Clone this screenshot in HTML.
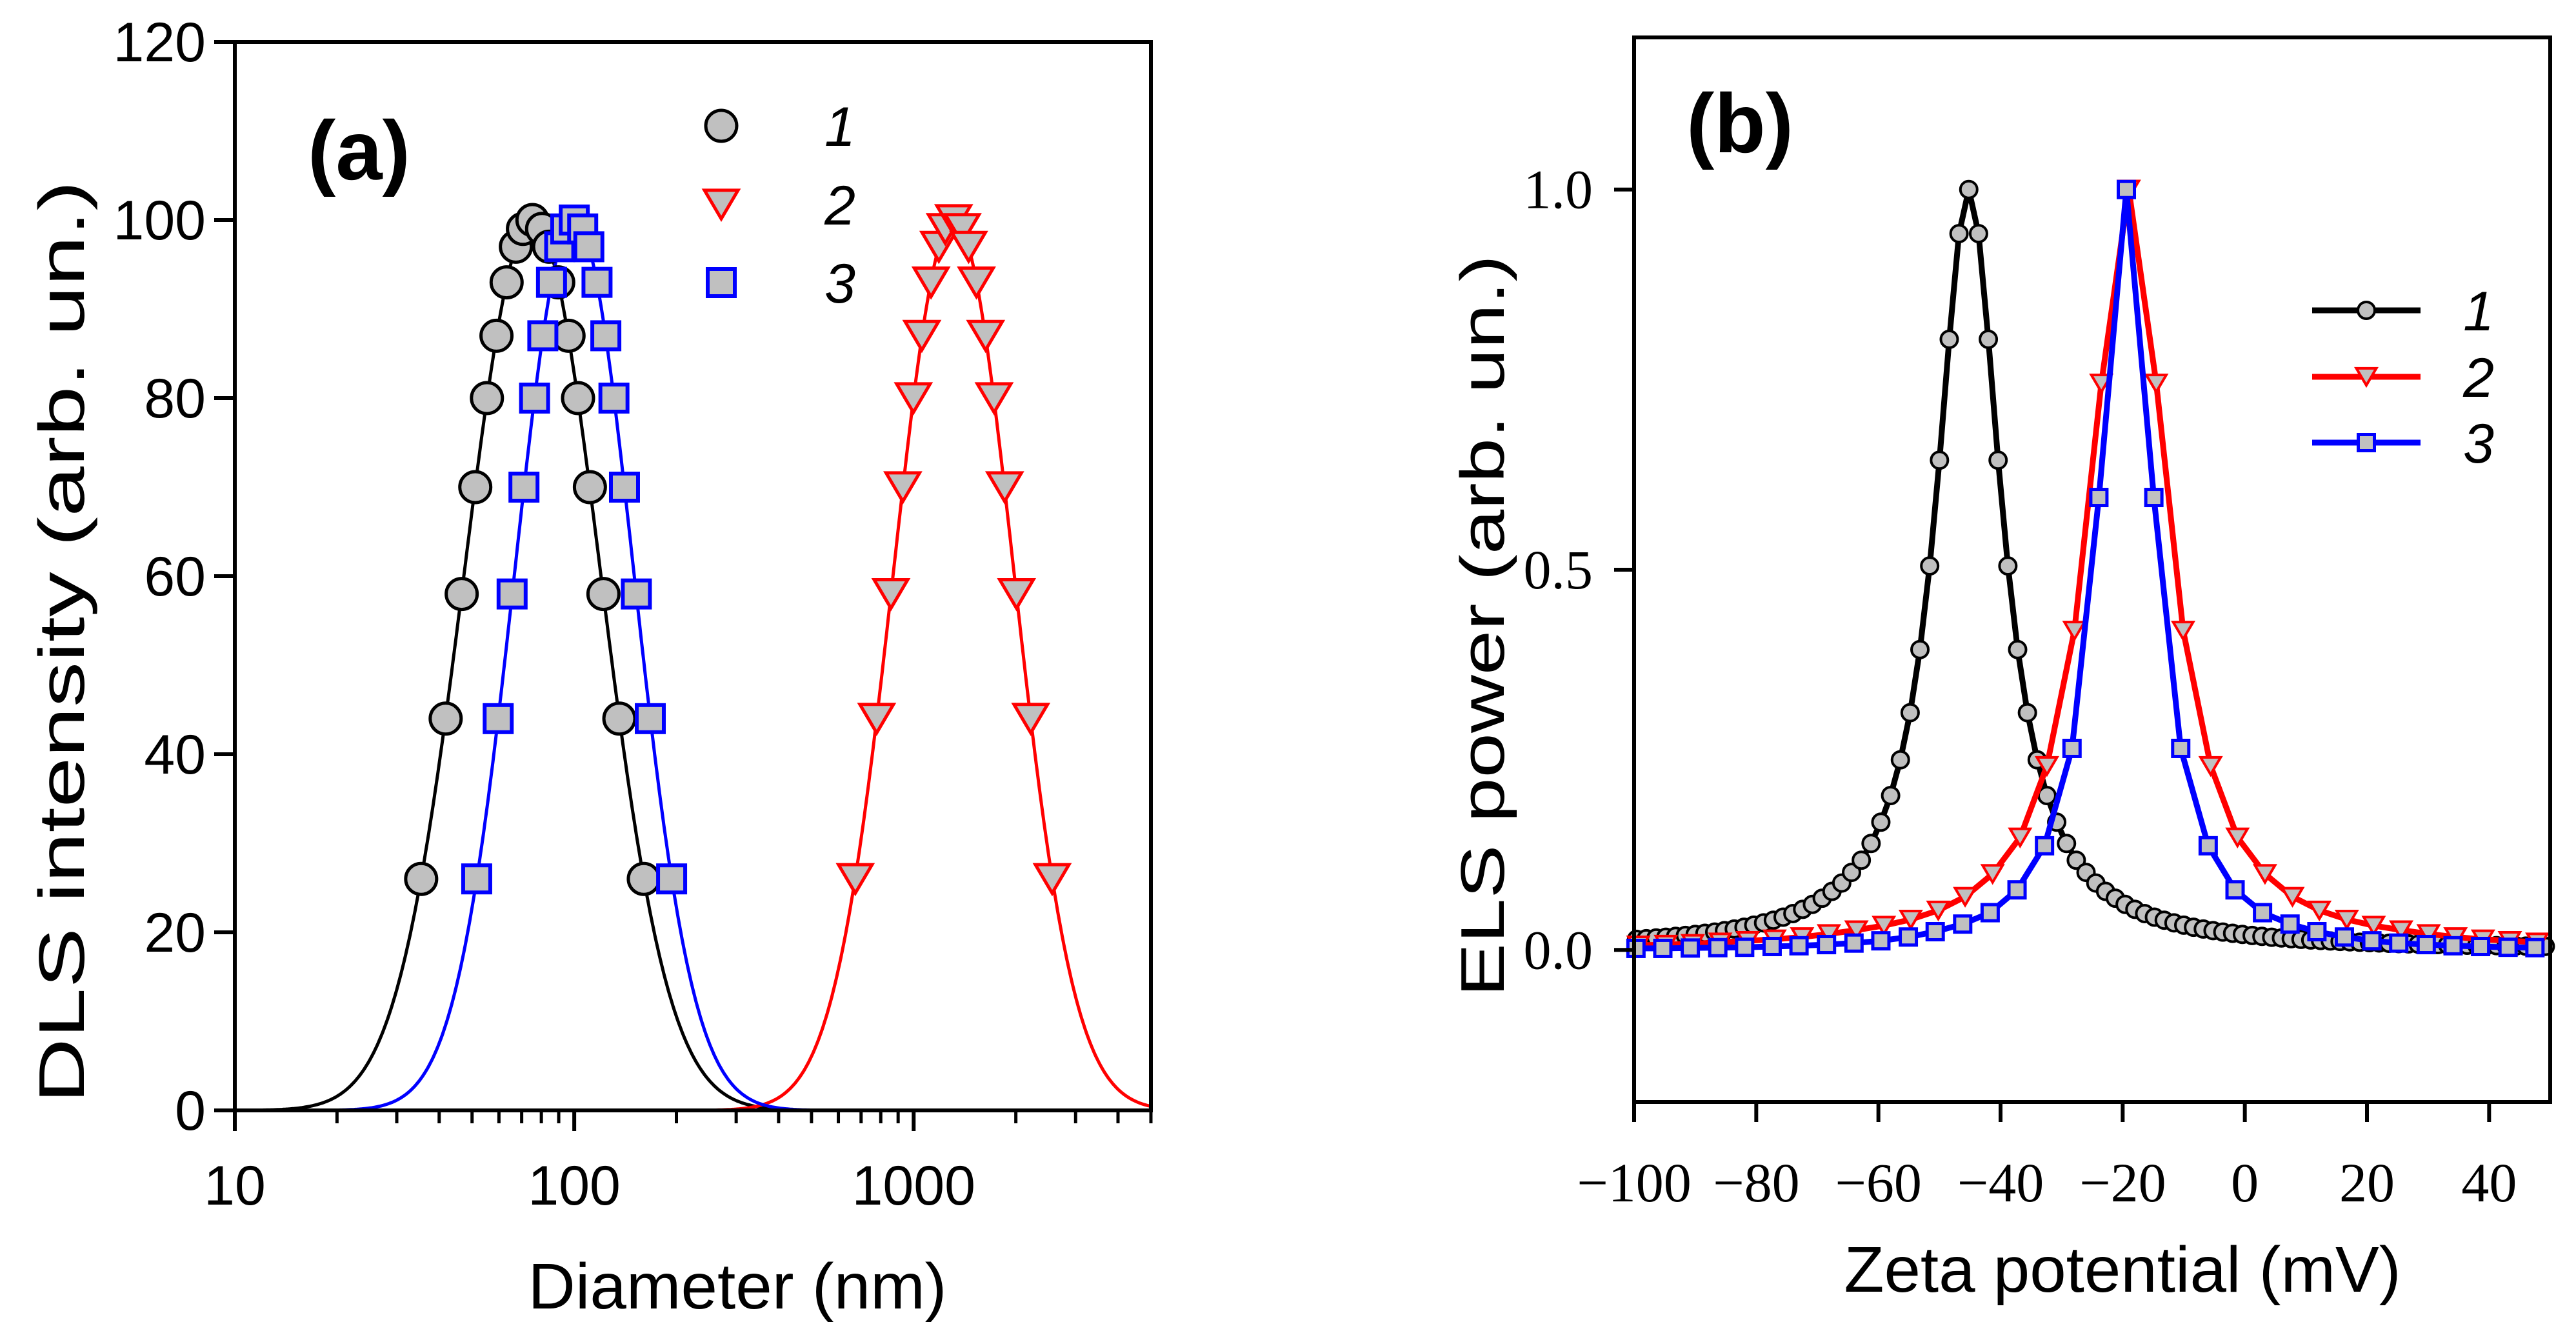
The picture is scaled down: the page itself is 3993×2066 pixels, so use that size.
<!DOCTYPE html>
<html><head><meta charset="utf-8"><style>
html,body{margin:0;padding:0;background:#fff;}
svg{display:block;}
</style></head><body>
<svg id="fig" width="3993" height="2066" viewBox="0 0 3993 2066" xmlns="http://www.w3.org/2000/svg">
<g id="pa"></g>
<g id="pb"></g>
</svg>
<script>
// ---------- Panel (a) data ----------
const aYLevels = [26,44,58,70,80,87,93,97,99,100,99,97,93,87,80,70,58,44,26];
const aX1 = [35.4,41.8,46.6,51.1,55.3,59.0,63.2,67.3,70.6,75.3,80.4,84.3,89.7,96.2,102.6,111.2,121.9,135.8,160.3];
const aX2 = [673,778,857,929,998,1057,1125,1186,1239,1312,1390,1452,1531,1629,1726,1854,2009,2213,2559];
const aX3 = [51.6,59.7,65.6,71.1,76.4,80.8,85.7,90.6,94.4,100,105.9,110.4,116.7,123.9,130.9,140.6,152.4,167.5,193.6];
const aFitCenters = [75.3,1312,100];
const aFitLogWidths = [0.2,0.177,0.175];
const aYTicks = [0,20,40,60,80,100,120];
const aXMajor = [10,100,1000];
const aXMinor = [20,30,40,50,60,70,80,90,200,300,400,500,600,700,800,900,2000,3000,4000,5000];
// ---------- Panel (b) data ----------
const b1X = [-99.6,-98.0,-96.4,-94.8,-93.2,-91.6,-90.0,-88.4,-86.8,-85.2,-83.6,-82.0,-80.4,-78.8,-77.2,-75.6,-74.0,-72.4,-70.8,-69.2,-67.6,-66.0,-64.4,-62.8,-61.2,-59.6,-58.0,-56.4,-54.8,-53.2,-51.6,-50.0,-48.4,-46.8,-45.2,-43.6,-42.0,-40.4,-38.8,-37.2,-35.6,-34.0,-32.4,-30.8,-29.2,-27.6,-26.0,-24.4,-22.8,-21.2,-19.6,-18.0,-16.4,-14.8,-13.2,-11.6,-10.0,-8.4,-6.8,-5.2,-3.6,-2.0,-0.4,1.2,2.8,4.4,6.0,7.6,9.2,10.8,12.4,14.0,15.6,17.2,18.8,20.4,22.0,23.6,25.2,26.8,28.4,30.0,31.6,33.2,34.8,36.4,38.0,39.6,41.2,42.8,44.4,46.0,47.6,49.2];
const b1Y = [0.0139,0.0148,0.0157,0.0167,0.0178,0.0190,0.0204,0.0219,0.0235,0.0254,0.0275,0.0298,0.0326,0.0356,0.0391,0.0431,0.0478,0.0534,0.0599,0.068,0.077,0.088,0.102,0.118,0.140,0.168,0.203,0.250,0.312,0.395,0.505,0.644,0.803,0.942,1.0,0.942,0.803,0.644,0.505,0.395,0.312,0.250,0.203,0.168,0.140,0.118,0.102,0.088,0.077,0.068,0.0599,0.0534,0.0478,0.0431,0.0391,0.0356,0.0326,0.0298,0.0275,0.0254,0.0235,0.0219,0.0204,0.0190,0.0178,0.0167,0.0157,0.0148,0.0139,0.0131,0.0124,0.0118,0.0112,0.0106,0.0101,0.0096,0.0092,0.0087,0.0083,0.0080,0.0076,0.0073,0.0070,0.0067,0.0065,0.0062,0.0060,0.0058,0.0056,0.0054,0.0052,0.0050,0.0048,0.0047];
const b2X = [-99.3,-94.8,-90.4,-85.9,-81.4,-77.0,-72.5,-68.1,-63.6,-59.1,-54.7,-50.2,-45.8,-41.3,-36.8,-32.4,-27.9,-23.5,-19.0,-14.5,-10.1,-5.6,-1.2,3.3,7.8,12.2,16.7,21.1,25.6,30.1,34.5,39.0,43.4,47.9];
const b2Y = [0.006,0.007,0.008,0.010,0.012,0.014,0.017,0.021,0.026,0.032,0.040,0.052,0.070,0.100,0.148,0.242,0.420,0.745,1.0,0.745,0.420,0.242,0.148,0.100,0.070,0.052,0.040,0.032,0.026,0.021,0.017,0.014,0.012,0.010];
const b3X = [-99.7,-95.3,-90.8,-86.3,-81.9,-77.4,-73.0,-68.5,-64.0,-59.6,-55.1,-50.7,-46.2,-41.7,-37.3,-32.8,-28.3,-23.9,-19.4,-14.9,-10.5,-6.0,-1.6,2.9,7.4,11.8,16.3,20.8,25.2,29.7,34.1,38.6,43.1,47.5];
const b3Y = [0.002,0.002,0.0025,0.003,0.0035,0.0045,0.0055,0.007,0.009,0.012,0.017,0.024,0.034,0.049,0.079,0.137,0.265,0.595,1.0,0.595,0.265,0.137,0.079,0.049,0.034,0.024,0.017,0.012,0.009,0.007,0.0055,0.0045,0.0035,0.003];
const bXTicks = [-100,-80,-60,-40,-20,0,20,40];
const bYTicks = [0.0,0.5,1.0];
const bYTickLabels = ["0.0","0.5","1.0"];

const NS = "http://www.w3.org/2000/svg";
function mk(parent, tag, attrs, text){
  const e = document.createElementNS(NS, tag);
  for (const k in attrs) e.setAttribute(k, attrs[k]);
  if (text !== undefined) e.textContent = text;
  parent.appendChild(e);
  return e;
}
const SANS = '"Liberation Sans", Arial, sans-serif';
const SERIF = '"Liberation Serif", "Times New Roman", serif';

// ================= Panel A =================
const pa = document.getElementById('pa');
const aL = 364, aR = 1784, aT = 65, aB = 1721;
const aLogMin = 1, aLogMax = Math.log10(5000);
function ax(v){ return aL + (Math.log10(v) - aLogMin) / (aLogMax - aLogMin) * (aR - aL); }
function ay(v){ return aB - v / 120 * (aB - aT); }

const aColors = ['#000','#ff0000','#0000ff'];
const aCurveNames = ['fit-curve-1','fit-curve-2','fit-curve-3'];
[0,1,2].forEach(i => {
  let d = '';
  for (let p = 0; p <= 600; p++){
    const lg = aLogMin + (aLogMax - aLogMin) * p / 600;
    const dv = lg - Math.log10(aFitCenters[i]);
    const y = 100 * Math.exp(-dv*dv/(2*aFitLogWidths[i]*aFitLogWidths[i]));
    d += (p ? 'L' : 'M') + ax(Math.pow(10, lg)).toFixed(1) + ' ' + ay(y).toFixed(1);
  }
  const el = mk(pa, 'path', {d: d, fill: 'none', stroke: aColors[i], 'stroke-width': 5});
  
  
});

function circle(parent, cx, cy, r, sw){
  return mk(parent, 'circle', {cx: cx, cy: cy, r: r, fill: '#c0c0c0', stroke: '#000', 'stroke-width': sw});
}
function tri(parent, cx, cy, w, sw){
  const h = w * 0.85;
  return mk(parent, 'path', {d: `M${cx-w/2} ${cy-h/2}L${cx+w/2} ${cy-h/2}L${cx} ${cy+h/2}Z`, fill: '#c0c0c0', stroke: '#ff0000', 'stroke-width': sw, 'stroke-linejoin': 'miter'});
}
function sq(parent, cx, cy, s, sw){
  return mk(parent, 'rect', {x: cx-s/2, y: cy-s/2, width: s, height: s, fill: '#c0c0c0', stroke: '#0000ff', 'stroke-width': sw});
}
const ma = mk(pa, 'g', {});


aX1.forEach((x, i) => {
  const el = circle(ma, ax(x), ay(aYLevels[i]), 24, 5);
  
  
});
aX2.forEach((x, i) => {
  const el = tri(ma, ax(x), ay(aYLevels[i]), 52, 5);
  
  
});
aX3.forEach((x, i) => {
  const el = sq(ma, ax(x), ay(aYLevels[i]), 42, 6);
  
  
});

const fa = mk(pa, 'rect', {x: aL, y: aT, width: aR-aL, height: aB-aT, fill: 'none', stroke: '#000', 'stroke-width': 6});


aYTicks.forEach(v => {
  const t = mk(pa, 'line', {x1: aL-32, x2: aL, y1: ay(v), y2: ay(v), stroke: '#000', 'stroke-width': 6});
  
  
  const l = mk(pa, 'text', {x: aL-45, y: ay(v)+30, 'text-anchor': 'end', 'font-family': SANS, 'font-size': 86}, String(v));
  
  
});
aXMajor.forEach(v => {
  const t = mk(pa, 'line', {x1: ax(v), x2: ax(v), y1: aB, y2: aB+32, stroke: '#000', 'stroke-width': 6});
  
  
  const l = mk(pa, 'text', {x: ax(v), y: 1867, 'text-anchor': 'middle', 'font-family': SANS, 'font-size': 86}, String(v));
  
  
});
aXMinor.forEach(v => {
  const t = mk(pa, 'line', {x1: ax(v), x2: ax(v), y1: aB, y2: aB+20, stroke: '#000', 'stroke-width': 5});
  
  
});
let tt = mk(pa, 'text', {x: 1143, y: 2028, 'text-anchor': 'middle', 'font-family': SANS, 'font-size': 100, textLength: 649, lengthAdjust: 'spacingAndGlyphs'}, 'Diameter (nm)');


tt = mk(pa, 'text', {x: 0, y: 0, transform: 'translate(130,995) rotate(-90)', 'text-anchor': 'middle', 'font-family': SANS, 'font-size': 100, textLength: 1430, lengthAdjust: 'spacingAndGlyphs'}, 'DLS intensity (arb. un.)');


tt = mk(pa, 'text', {x: 477, y: 278, 'font-family': SANS, 'font-size': 130, 'font-weight': 'bold'}, '(a)');


const lga = mk(pa, 'g', {});


const legRowsA = [195, 317, 438];
let le = circle(lga, 1118, legRowsA[0], 24, 5);


le = tri(lga, 1118, legRowsA[1], 52, 5);


le = sq(lga, 1118, legRowsA[2], 42, 6);


['1','2','3'].forEach((s, i) => {
  const t = mk(lga, 'text', {x: 1302, y: legRowsA[i]+31, 'font-family': SANS, 'font-size': 86, 'font-style': 'italic', 'text-anchor': 'middle'}, s);
  
  
});

// ================= Panel B =================
const pb = document.getElementById('pb');
const bL = 2533, bR = 3953, bT = 58, bB = 1708;
function bx(v){ return bL + (v + 100) / 150 * (bR - bL); }
function by(v){ return bB - (v + 0.2) / 1.4 * (bB - bT); }
function series(parent, xs, ys, color, name, markFn){
  const g = mk(parent, 'g', {});
  
  
  const d = xs.map((x, i) => (i ? 'L' : 'M') + bx(x).toFixed(1) + ' ' + by(ys[i]).toFixed(1)).join('');
  const ln = mk(g, 'path', {d: d, fill: 'none', stroke: color, 'stroke-width': 9, 'stroke-linejoin': 'round'});
  
  
  xs.forEach((x, i) => {
    const m = markFn(g, bx(x), by(ys[i]));
    
    
  });
}
series(pb, b1X, b1Y, '#000', 'series-1', (g, x, y) => circle(g, x, y, 13, 4));
series(pb, b2X, b2Y, '#ff0000', 'series-2', (g, x, y) => tri(g, x, y, 31, 4));
series(pb, b3X, b3Y, '#0000ff', 'series-3', (g, x, y) => sq(g, x, y, 25, 5));

const fb = mk(pb, 'rect', {x: bL, y: bT, width: bR-bL, height: bB-bT, fill: 'none', stroke: '#000', 'stroke-width': 6});


bXTicks.forEach(v => {
  const t = mk(pb, 'line', {x1: bx(v), x2: bx(v), y1: bB, y2: bB+31, stroke: '#000', 'stroke-width': 6});
  
  
  const l = mk(pb, 'text', {x: bx(v), y: 1862, 'text-anchor': 'middle', 'font-family': SERIF, 'font-size': 86}, (v < 0 ? '\u2212' + (-v) : String(v)));
  
  
});
bYTicks.forEach((v, i) => {
  const t = mk(pb, 'line', {x1: bL-31, x2: bL, y1: by(v), y2: by(v), stroke: '#000', 'stroke-width': 6});
  
  
  const l = mk(pb, 'text', {x: bL-64, y: by(v)+29, 'text-anchor': 'end', 'font-family': SERIF, 'font-size': 86}, bYTickLabels[i]);
  
  
});
tt = mk(pb, 'text', {x: 3290, y: 2002, 'text-anchor': 'middle', 'font-family': SANS, 'font-size': 100, textLength: 863, lengthAdjust: 'spacingAndGlyphs'}, 'Zeta potential (mV)');


tt = mk(pb, 'text', {x: 0, y: 0, transform: 'translate(2331,970) rotate(-90)', 'text-anchor': 'middle', 'font-family': SANS, 'font-size': 96, textLength: 1150, lengthAdjust: 'spacingAndGlyphs'}, 'ELS power (arb. un.)');


tt = mk(pb, 'text', {x: 2614, y: 236, 'font-family': SANS, 'font-size': 130, 'font-weight': 'bold'}, '(b)');


const lgb = mk(pb, 'g', {});


const legRowsB = [481, 584, 686];
const legColorsB = ['#000','#ff0000','#0000ff'];
legRowsB.forEach((y, i) => {
  const l = mk(lgb, 'line', {x1: 3584, x2: 3752, y1: y, y2: y, stroke: legColorsB[i], 'stroke-width': 9});
  
  
  let m;
  if (i === 0) m = circle(lgb, 3668, y, 13, 4);
  else if (i === 1) m = tri(lgb, 3668, y, 31, 4);
  else m = sq(lgb, 3668, y, 25, 5);
  
  
  const t = mk(lgb, 'text', {x: 3842, y: y+31, 'text-anchor': 'middle', 'font-family': SANS, 'font-size': 86, 'font-style': 'italic'}, String(i+1));
  
  
});
</script>
</body></html>
